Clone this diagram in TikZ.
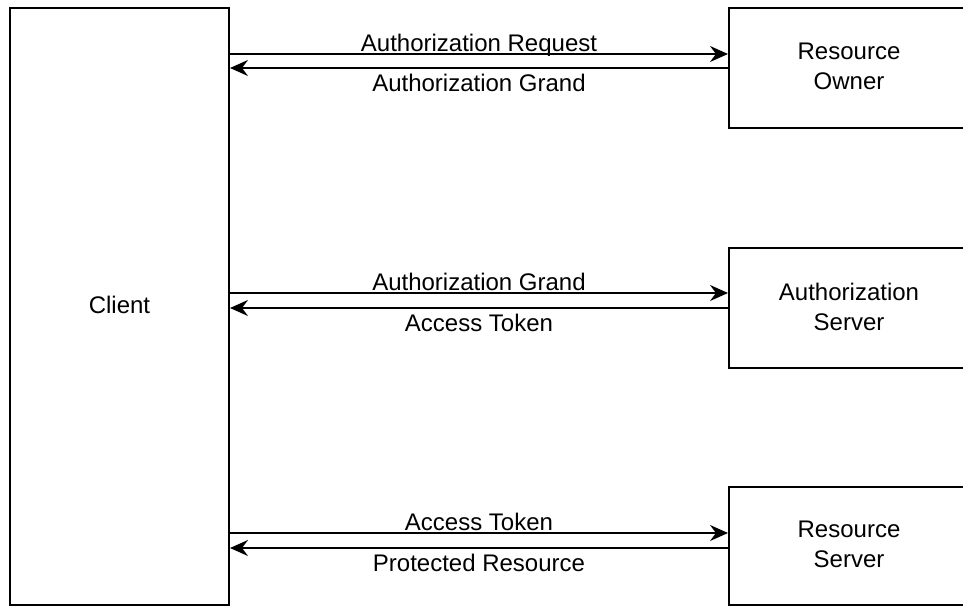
\documentclass[tikz,border=0pt]{standalone}
\usepackage{fontspec}
\setmainfont{Liberation Sans}
\usetikzlibrary{arrows.meta}
\begin{document}
\begin{tikzpicture}[x=1pt,y=-1pt,font=\fontsize{24}{30}\selectfont,
    box/.style={draw, line width=2pt, align=center, inner sep=0pt, text depth=3pt},
    flow/.style={line width=2pt, -{Stealth[length=18pt,width=16pt,inset=6pt]}},
    lbl/.style={anchor=base, inner sep=0pt}]
    \useasboundingbox (0,0) rectangle (963,607);

    \node[box, minimum width=219pt, minimum height=597pt] (client) at (119.5,306.5) {Client};
    \node[box, minimum width=240pt, minimum height=120pt] (owner) at (849,68) {Resource\\Owner};
    \node[box, minimum width=240pt, minimum height=120pt] (auth) at (849,308) {Authorization\\Server};
    \node[box, minimum width=240pt, minimum height=118pt] (server) at (849,546) {Resource\\Server};

    \foreach \dst/\yto/\yback/\sent/\recv in {owner/54/68/Authorization Request/Authorization Grand,
            auth/293/308/Authorization Grand/Access Token,
            server/533/548/Access Token/Protected Resource}{
        \coordinate (to) at (0,\yto);
        \coordinate (back) at (0,\yback);
        \draw[flow] (client.east |- to) -- node[lbl, yshift=2.5pt] {\sent} (\dst.west |- to);
        \draw[flow] (\dst.west |- back) -- node[lbl, yshift=-23.5pt] {\recv} (client.east |- back);
    }

\end{tikzpicture}
\end{document}
